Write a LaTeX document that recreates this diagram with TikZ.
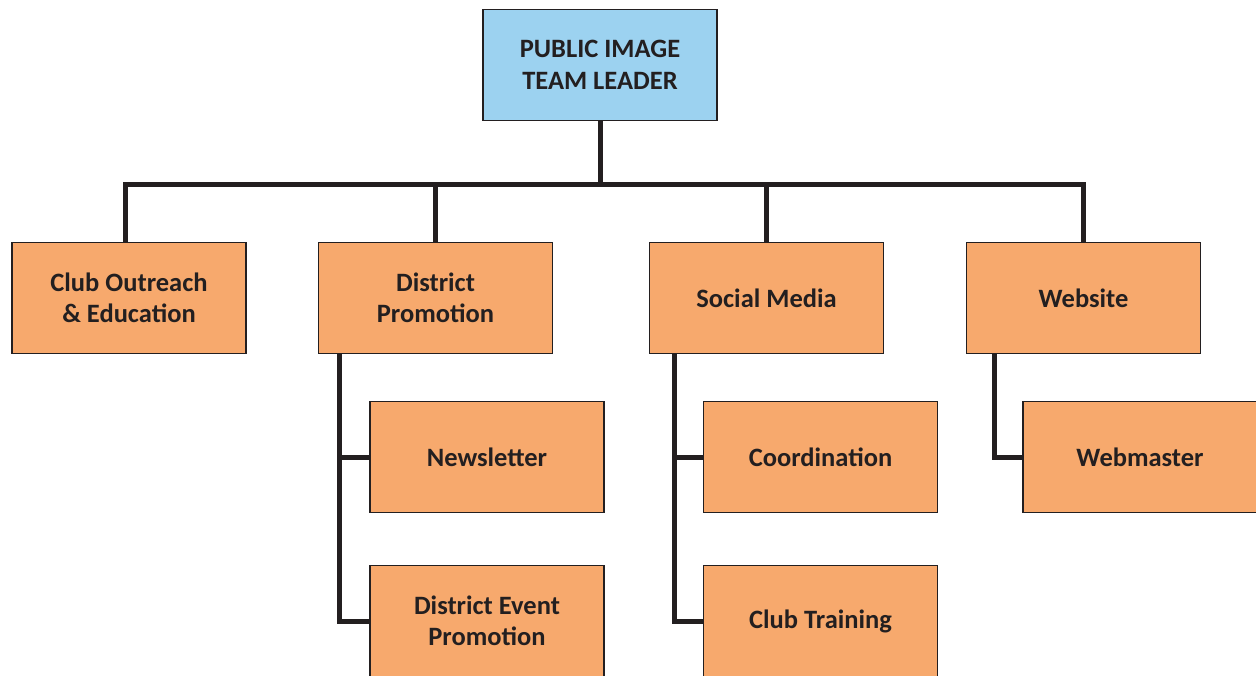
\documentclass[tikz,border=0pt]{standalone}
\usepackage{fontspec}
\setmainfont{Carlito}
\definecolor{boxblue}{HTML}{9CD2F0}
\definecolor{boxorange}{HTML}{F7A96D}
\definecolor{ink}{HTML}{231F20}
\begin{document}
\begin{tikzpicture}[x=1pt,y=-1pt,
  box/.style={draw=ink,line width=1.8pt,fill=boxorange,minimum width=234pt,minimum height=111pt,
    align=center,inner sep=0pt,font=\fontsize{26.5}{31.5}\selectfont\bfseries,text=ink},
  topbox/.style={box,fill=boxblue},
  conn/.style={draw=ink,line width=5pt}]
\useasboundingbox (0,0) rectangle (1256,675);
\clip (0,0) rectangle (1256,675);
\coordinate (bar) at (600,184);
\node[topbox] (top) at (600,65) {PUBLIC IMAGE\\TEAM LEADER};
\node[box] (club) at (129,298) {Club Outreach\\\& Education};
\node[box] (dp) at (435.5,298) {District\\Promotion};
\node[box] (sm) at (766.5,298) {Social Media};
\node[box] (web) at (1083.5,298) {Website};
\node[box] (nl) at (487,457) {Newsletter};
\node[box] (dep) at (487,621) {District Event\\Promotion};
\node[box] (coord) at (820.5,457) {Coordination};
\node[box] (ct) at (820.5,621) {Club Training};
\node[box] (wm) at (1140,457) {Webmaster};
\draw[conn] (top.south) -- (bar);
\draw[conn,line join=miter] ([xshift=-4]club.north) |- (bar) -| ([xshift=-0.5]web.north);
\draw[conn] (dp.north |- bar) -- (dp.north);
\draw[conn] (sm.north |- bar) -- (sm.north);
\draw[conn,line join=miter] ([xshift=22]dp.south west) |- (nl.west);
\draw[conn,line join=miter] ([xshift=22]dp.south west) |- (dep.west);
\draw[conn,line join=miter] ([xshift=26]sm.south west) |- (coord.west);
\draw[conn,line join=miter] ([xshift=26]sm.south west) |- (ct.west);
\draw[conn,line join=miter] ([xshift=29]web.south west) |- (wm.west);
\end{tikzpicture}
\end{document}
